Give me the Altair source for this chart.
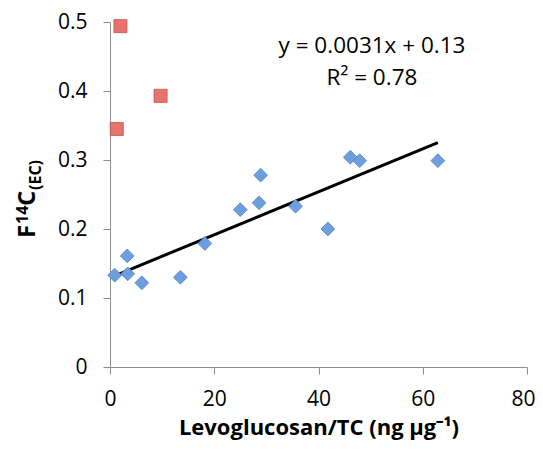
import altair as alt
import pandas as pd

# Blue series (diamonds)
blue_x = [0.9, 3.3, 3.4, 6.1, 13.5, 18.2, 25.0, 28.6, 28.9, 35.6, 41.8, 46.1, 47.9, 62.9]
blue_y = [0.133, 0.161, 0.135, 0.122, 0.130, 0.179, 0.228, 0.238, 0.278, 0.233, 0.200, 0.304, 0.299, 0.299]
# Red series (squares)
red_x = [2.0, 9.7, 1.3]
red_y = [0.494, 0.393, 0.345]

x_ticks = [0, 20, 40, 60, 80]
y_ticks = [0, 0.1, 0.2, 0.3, 0.4, 0.5]

eq_lines = ["y = 0.0031x + 0.13", "R² = 0.78"]

blue = pd.DataFrame({"x": blue_x, "y": blue_y})
red = pd.DataFrame({"x": red_x, "y": red_y})

FONT = "Open Sans"
W, H = 417, 345

xs = alt.Scale(domain=[0, 80], nice=False)
ys = alt.Scale(domain=[0, 0.5], nice=False)

xax = alt.Axis(values=x_ticks, title="Levoglucosan/TC (ng μg⁻¹)", grid=False,
               domainColor="#8c8c8c", tickColor="#8c8c8c", tickSize=7,
               labelFont=FONT, labelFontSize=21, labelColor="black", labelPadding=14,
               labelFlush=False,
               labelAlign={"condition": {"test": "datum.value >= 80", "value": "right"}, "value": "center"},
               labelOffset={"condition": {"test": "datum.value >= 80", "value": 8}, "value": 0},
               titleFont=FONT, titleFontSize=22, titleFontWeight="bold", titleColor="black",
               titlePadding=8)
yax = alt.Axis(values=y_ticks, title=None, grid=False, format=".1~f",
               domainColor="#8c8c8c", tickColor="#8c8c8c", tickSize=7,
               labelFlush=False,
               labelFont=FONT, labelFontSize=21, labelColor="black", labelPadding=16)

base_x = alt.X("x:Q", scale=xs, axis=xax)
base_y = alt.Y("y:Q", scale=ys, axis=yax)

blue_pts = alt.Chart(blue).mark_point(
    shape="diamond", filled=True, size=190, fill="#6d9fde", stroke="#4f81bd",
    strokeWidth=0.8, opacity=1
).encode(x=base_x, y=base_y)

red_pts = alt.Chart(red).mark_point(
    shape="square", filled=True, size=170, fill="#e8726d", stroke="#c0504d",
    strokeWidth=0.8, opacity=1
).encode(x=base_x, y=base_y)

trend = alt.Chart(blue).transform_regression(
    "x", "y", extent=[0.9, 62.9]
).mark_line(color="black", strokeWidth=3).encode(
    x=alt.X("x:Q", scale=xs), y=alt.Y("y:Q", scale=ys)
)

eq1 = alt.Chart(pd.DataFrame({"t": [eq_lines[0]]})).mark_text(
    font=FONT, fontSize=22.5, align="center", baseline="alphabetic", color="black"
).encode(text="t:N", x=alt.value(262), y=alt.value(31))
eq2 = alt.Chart(pd.DataFrame({"t": [eq_lines[1]]})).mark_text(
    font=FONT, fontSize=22.5, align="center", baseline="alphabetic", color="black"
).encode(text="t:N", x=alt.value(262), y=alt.value(63))

# Y title pieces: F ¹⁴ C (EC)
def ypiece(txt, size, xp, yp):
    return alt.Chart(pd.DataFrame({"t": [txt]})).mark_text(
        font=FONT, fontSize=size, fontWeight="bold", angle=270,
        align="left", baseline="alphabetic", color="black"
    ).encode(text="t:N", x=alt.value(xp), y=alt.value(yp))

yt = alt.layer(
    ypiece("F", 24, -75, 216),
    ypiece("14", 16, -82, 202),
    ypiece("C", 24, -75, 184),
    ypiece("(EC)", 16, -69, 168),
)

chart = alt.layer(trend, blue_pts, red_pts, eq1, eq2, yt).properties(
    width=W, height=H,
    autosize=alt.AutoSizeParams(type="none"),
    padding={"left": 102, "top": 14, "right": 8, "bottom": 77},
).configure_view(stroke=None)

chart.save("out.html", embed_options={"renderer": "svg", "actions": False})
